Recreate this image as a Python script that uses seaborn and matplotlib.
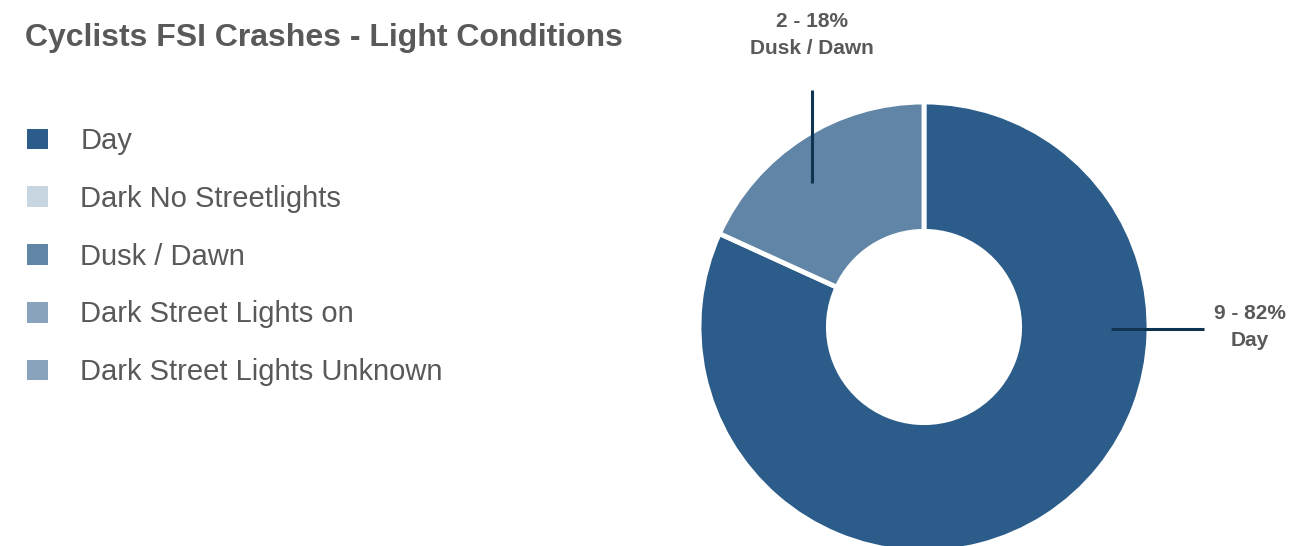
import matplotlib
matplotlib.use("Agg")
import matplotlib.pyplot as plt
from matplotlib.patches import Patch
import seaborn as sns

# Crash counts by light condition
categories = ["Day", "Dark No Streetlights", "Dusk / Dawn",
              "Dark Street Lights on", "Dark Street Lights Unknown"]
counts = [9, 0, 2, 0, 0]
colors = ["#2c5d8a", "#c8d6e1", "#6085a6", "#88a3bb", "#88a3bb"]

title = "Cyclists FSI Crashes - Light Conditions"
text_color = "#595959"
leader_color = "#0e3450"

sns.set_theme(style="white")
plt.rcParams["font.family"] = ["Liberation Sans", "DejaVu Sans"]

fig = plt.figure(figsize=(13.12, 5.46), dpi=100)
fig.patch.set_facecolor("white")

# Donut axes
R_PX = 225
cx, cy = 924, 546 - 327
ax = fig.add_axes([(cx - R_PX) / 1312, (cy - R_PX) / 546,
                   2 * R_PX / 1312, 2 * R_PX / 546])

# Only non-zero categories get a wedge; Day starts at 12 o'clock going clockwise
shown = [(c, v, col) for c, v, col in zip(categories, counts, colors) if v > 0]
vals = [v for _, v, _ in shown]
wedges, _ = ax.pie(vals, colors=[col for _, _, col in shown], startangle=90,
                   counterclock=False, radius=1.0,
                   wedgeprops=dict(width=0.575, edgecolor="white", linewidth=3.5))
ax.set_xlim(-1, 1)
ax.set_ylim(-1, 1)
ax.set_aspect("equal")
ax.axis("off")

total = sum(counts)
label_specs = {
    "Day": dict(line=((0.83, 1.245), (-0.01, -0.01)), pos=(1.45, 0.0)),
    "Dusk / Dawn": dict(line=((-0.497, -0.497), (0.64, 1.055)), pos=(-0.497, 1.297)),
}
for c, v, _ in shown:
    spec = label_specs[c]
    (x0, x1), (y0, y1) = spec["line"]
    ax.plot([x0, x1], [y0, y1], color=leader_color, lw=2.2, clip_on=False,
            solid_capstyle="butt")
    pct = round(100 * v / total)
    ax.text(spec["pos"][0], spec["pos"][1], f"{v} - {pct}%\n{c}",
            ha="center", va="center", fontsize=15, fontweight="bold",
            color=text_color, linespacing=1.5, clip_on=False)

# Title
fig.text(25 / 1312, 1 - 38 / 546, title, fontsize=23, fontweight="bold",
         color=text_color, ha="left", va="center")

# Legend listing every category
handles = [Patch(facecolor=col, edgecolor="none") for col in colors]
fig.legend(handles, categories, loc="upper left",
           bbox_to_anchor=(15 / 1312, 1 - 115.5 / 546), frameon=False,
           fontsize=21, labelcolor=text_color, handlelength=0.72,
           handleheight=0.72, handletextpad=1.12, labelspacing=1.02,
           borderaxespad=0)

fig.savefig("out.png", dpi=100, facecolor="white")
